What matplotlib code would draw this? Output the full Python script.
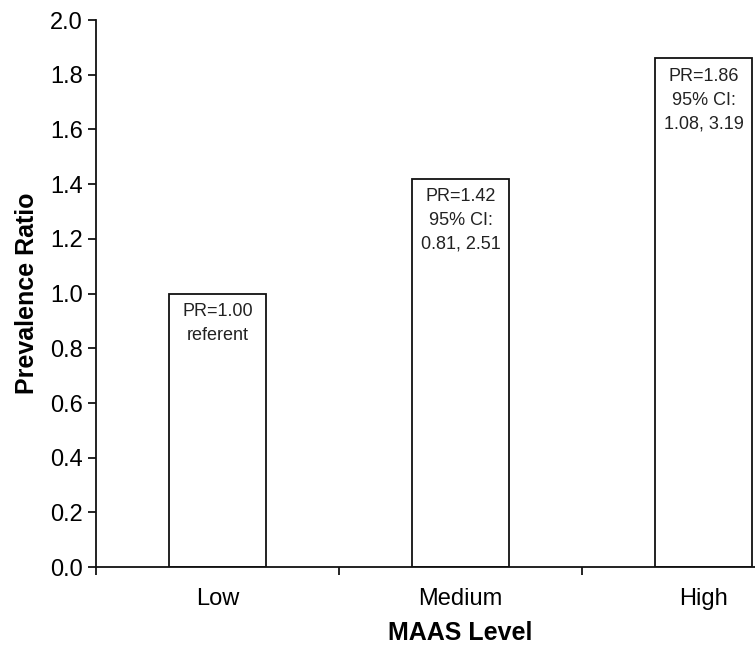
import matplotlib.pyplot as plt
import numpy as np

plt.rcParams['font.family'] = ['Liberation Sans', 'DejaVu Sans']

levels = ['Low', 'Medium', 'High']
pr = [1.00, 1.42, 1.86]
ci_low = [None, 0.81, 1.08]
ci_high = [None, 2.51, 3.19]

fig = plt.figure(figsize=(7.55, 6.46), dpi=100)
# axes run past the right edge of the figure, as in the original
ax = fig.add_axes([0.127, 0.122, 0.966, 0.847])

x = np.arange(len(levels))
ax.bar(x, pr, width=0.4, color='white', edgecolor='#111111', linewidth=1.3)

# bar labels
for xi, p, lo, hi in zip(x, pr, ci_low, ci_high):
    if lo is None:
        txt = 'PR=%.2f\nreferent' % p
    else:
        txt = 'PR=%.2f\n95%% CI:\n%.2f, %.2f' % (p, lo, hi)
    ax.annotate(txt, (xi, p), xytext=(0, -7), textcoords='offset points',
                ha='center', va='top', fontsize=13, linespacing=1.5,
                color='#222222')

ax.set_xlim(-0.5, 2.5)
ax.set_ylim(0, 2.0)
ax.set_yticks(np.arange(0, 2.01, 0.2))
ax.set_yticklabels(['%.1f' % v for v in np.arange(0, 2.01, 0.2)])
ax.set_xticks(x)
ax.set_xticklabels(levels)
ax.set_xticks([-0.5, 0.5, 1.5], minor=True)
ax.tick_params(axis='x', which='major', length=0, labelsize=17, pad=15)
ax.tick_params(axis='x', which='minor', length=6, width=1.2, direction='out')
ax.tick_params(axis='y', labelsize=17, length=6, width=1.2, direction='out')

for s in ['top', 'right']:
    ax.spines[s].set_visible(False)
for s in ['left', 'bottom']:
    ax.spines[s].set_linewidth(1.3)
    ax.spines[s].set_color('#111111')

ax.set_xlabel('MAAS Level', fontsize=18, fontweight='bold', labelpad=8)
ax.set_ylabel('Prevalence Ratio', fontsize=18, fontweight='bold', labelpad=8)

fig.savefig('out.png', dpi=100)
